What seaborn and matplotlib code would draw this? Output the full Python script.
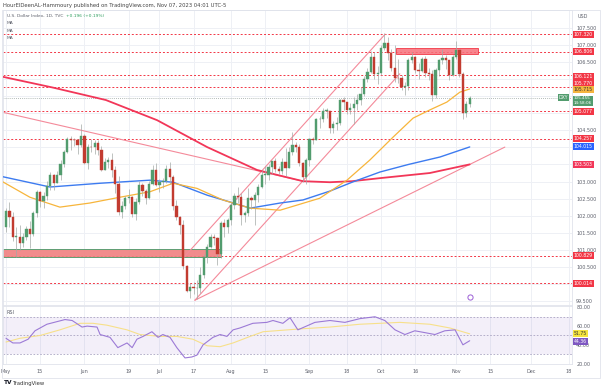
import numpy as np
import pandas as pd
import matplotlib
matplotlib.use("Agg")
import matplotlib.pyplot as plt
import matplotlib.transforms as mtransforms
from matplotlib.patches import Rectangle
import seaborn as sns

# ---------------- data ----------------
dates = pd.bdate_range("2023-05-01", "2023-11-07")

opens = [101.66,102.14,101.97,101.37,101.37,101.21,101.37,101.61,101.45,102.07,102.69,102.43,102.57,102.86,103.19,102.97,103.20,103.51,103.87,104.24,104.22,104.21,104.08,
         104.33,103.55,104.02,104.00,104.14,103.93,103.34,103.56,103.63,103.34,102.94,102.11,102.28,102.53,102.55,102.04,102.40,102.89,102.71,102.53,102.92,103.35,
         102.91,102.98,103.02,103.38,103.14,102.28,101.96,101.74,100.52,99.78,99.90,99.87,99.88,100.27,100.80,101.07,101.37,101.33,100.89,101.77,101.67,
         101.86,102.31,102.58,102.56,102.02,102.07,102.52,102.47,102.61,102.84,103.19,103.19,103.43,103.59,103.38,103.30,103.56,103.41,103.88,104.08,104.02,103.53,103.14,
         103.62,104.24,104.23,104.82,104.84,105.07,105.08,104.56,104.69,104.72,105.40,105.32,105.10,105.15,105.26,105.38,105.58,106.00,106.22,106.64,106.14,
         106.17,106.92,107.05,106.77,106.33,106.05,106.03,105.77,105.80,106.56,106.65,106.27,106.25,106.58,106.18,106.16,105.55,106.27,106.57,106.62,106.56,106.11,
         106.66,106.86,106.14,105.02,105.26]
highs = [102.21,102.40,102.11,101.66,101.74,101.48,101.71,101.83,102.14,102.75,102.72,102.70,103.02,103.28,103.23,103.32,103.62,103.92,104.31,104.35,104.28,104.25,104.70,
         104.39,104.09,104.24,104.22,104.23,104.05,103.68,103.73,103.84,103.45,103.16,102.44,102.58,102.77,102.58,102.52,103.01,102.95,102.77,103.03,103.49,103.55,
         103.07,103.09,103.48,103.57,103.19,102.47,101.99,101.86,100.56,100.02,100.04,100.10,100.49,100.88,101.17,101.46,101.47,101.38,101.85,101.90,101.94,
         102.40,102.67,102.84,102.65,102.14,102.80,102.58,102.70,102.92,103.35,103.45,103.50,103.59,103.68,103.47,103.69,103.99,104.00,104.44,104.16,104.10,103.56,103.70,
         104.28,104.32,104.86,104.91,105.15,105.15,105.08,104.77,104.88,105.43,105.47,105.34,105.30,105.47,105.56,105.76,106.10,106.34,106.84,106.80,106.39,
         107.00,107.35,107.23,106.90,107.00,106.60,106.11,105.91,106.63,106.79,106.68,106.48,106.66,106.67,106.34,106.26,106.33,106.60,106.89,106.71,106.57,106.72,
         107.11,106.90,106.22,105.36,105.50]
lows = [101.52,101.66,101.25,100.78,100.98,101.07,101.30,101.06,101.40,101.96,102.24,102.22,102.47,102.76,102.74,102.97,103.05,103.44,103.83,103.92,104.05,103.81,104.02,
        103.51,103.38,103.86,103.82,103.78,103.30,103.33,103.41,103.13,102.65,102.03,101.92,102.20,102.37,101.97,101.87,102.35,102.57,102.33,102.48,102.89,102.86,
        102.70,102.80,102.97,102.93,102.16,101.88,101.45,100.44,99.77,99.58,99.70,99.57,99.73,100.18,100.62,101.05,101.15,100.55,100.76,101.36,101.48,
        101.74,102.20,102.37,101.74,101.80,101.98,102.20,101.74,102.40,102.81,102.93,103.05,103.23,103.29,103.21,103.22,103.15,103.39,103.77,103.88,103.47,103.00,102.94,
        103.45,104.10,104.22,104.57,104.76,104.86,104.42,104.43,104.51,104.66,105.10,104.98,104.99,104.68,105.09,105.25,105.52,105.92,106.17,106.00,105.85,
        106.11,106.86,106.55,106.25,105.93,105.90,105.67,105.53,105.69,106.47,106.19,106.01,106.20,106.07,105.98,105.37,105.45,106.10,106.45,106.29,105.97,106.09,
        106.60,106.06,104.84,104.88,105.20]
closes = [102.14,101.97,101.37,101.37,101.21,101.37,101.61,101.45,102.07,102.69,102.43,102.57,102.86,103.19,102.97,103.20,103.51,103.87,104.24,104.22,104.21,104.08,104.33,
          103.55,104.02,104.00,104.14,103.93,103.34,103.56,103.63,103.34,102.94,102.11,102.28,102.53,102.55,102.04,102.40,102.89,102.71,102.53,102.92,103.35,102.91,
          102.98,103.02,103.38,103.14,102.28,101.96,101.74,100.52,99.78,99.90,99.87,99.88,100.27,100.80,101.07,101.37,101.33,100.89,101.77,101.67,101.86,
          102.31,102.58,102.56,102.02,102.07,102.52,102.47,102.61,102.84,103.19,103.19,103.43,103.59,103.38,103.30,103.56,103.41,103.88,104.08,104.02,103.53,103.14,103.62,
          104.24,104.23,104.82,104.84,105.07,105.08,104.56,104.69,104.72,105.40,105.32,105.10,105.15,105.26,105.38,105.58,106.00,106.22,106.64,106.14,106.17,
          106.92,107.05,106.77,106.33,106.05,106.03,105.77,105.80,106.56,106.65,106.27,106.25,106.58,106.18,106.16,105.55,106.27,106.57,106.62,106.56,106.11,106.66,
          106.86,106.14,105.02,105.26,105.455]

# moving averages (bar index, value)
ma50_idx = [-1.8, 7, 15.8, 24.6, 33.4, 42.2, 49, 56, 63.6, 71.6, 80.4, 92, 100, 106.7, 113.5, 119.4, 124.3, 129.3, 133.1, 136]
ma50_val = [103.04, 102.54, 102.25, 102.37, 102.54, 102.70, 102.95, 102.80, 102.46, 102.22, 102.16, 102.51, 103.04, 103.63, 104.30, 104.86, 105.10, 105.33, 105.62, 105.715]
ma100_idx = [-1.8, 12.9, 27.6, 42.2, 49, 59, 65.7, 71.6, 80.4, 87.1, 95, 101.5, 109.7, 118, 127.3, 136]
ma100_val = [103.16, 102.84, 102.95, 103.04, 102.98, 102.60, 102.40, 102.22, 102.37, 102.46, 102.72, 102.98, 103.28, 103.50, 103.72, 104.015]
ma200_idx = [-1.8, 14, 29.3, 44.3, 59, 73.6, 87.1, 95, 101.5, 109.7, 124.3, 136]
ma200_val = [106.09, 105.75, 105.39, 104.80, 104.01, 103.34, 103.01, 102.98, 103.01, 103.10, 103.25, 103.503]

rsi_idx = [0, 2, 4.1, 6.5, 8.5, 12, 17.3, 19.4, 22.3, 23.8, 26.7, 27.6, 30.5, 32.8, 35.5, 37, 38.4, 40.2, 42.8, 44.6, 46, 48.1,
           50.1, 52.5, 54.5, 56, 57.8, 60.7, 62.8, 64.8, 66.6, 68.6, 72.4, 76.5, 78.3, 81.2, 83.3, 85.6, 90.6, 95, 99.4, 103.8,
           108.2, 111.1, 114.1, 117, 119.9, 122.9, 125.8, 128.7, 131.7, 134, 136]
rsi_val = [47, 42, 42, 46, 55, 62, 67, 66, 59, 60, 59, 51, 48, 37, 42, 37, 46, 49, 54, 48, 51, 48,
           37, 26, 27, 29, 40, 48, 51, 49, 56, 58, 63, 64, 66, 63, 69, 56, 64, 66, 64, 68,
           70, 66, 56, 51, 55, 53, 51, 55, 56, 40, 44.36]
rsima_idx = [0, 4.1, 10, 15.8, 21.7, 25.5, 29.6, 35.5, 39.3, 45.2, 50.1, 54.8, 59, 62.8, 66.6, 71.6, 75.4, 86.2, 95, 103.8, 115.5, 124.3, 130.2, 136]
rsima_val = [43, 47, 50, 56, 63, 63, 61, 56, 51, 49, 49, 46, 39, 38, 42, 49, 54, 57, 59, 62, 64, 62, 58, 51.75]

levels = [107.320, 106.806, 106.121, 105.770, 105.077, 104.257, 100.829, 100.014]
level_badge_pos = [107.320, 106.806, 106.09, 105.885, 105.05, 104.257, 100.829, 100.014]
tick_pos = [0, 10, 23, 36, 45, 55, 66, 76, 89, 100, 110, 120, 132, 142, 154, 165]
tick_lab = ["May", "15", "Jun", "19", "Jul", "17", "Aug", "15", "Sep", "18", "Oct", "16", "Nov", "15", "Dec", "18"]
price_ticks = [99.5, 100.0, 100.5, 101.0, 101.5, 102.0, 102.5, 103.0, 103.5, 104.0, 104.5, 105.0, 105.5, 106.0, 106.5, 107.0, 107.5]
hidden_ticks = [100.0, 103.5, 104.0, 105.0, 105.5, 106.0]

# ---------------- style ----------------
sns.set_theme(style="white")
plt.rcParams['font.family'] = ['DejaVu Sans']
UP, DN = "#529c6e", "#c23b30"
GRID = "#eef0f5"
TXT = "#5d606b"
FS = 3.5

fig = plt.figure(figsize=(6.02, 3.90), dpi=100)
W, H = 602.0, 390.0
def fx(px): return px / W
def fy(py): return 1 - py / H

x0, x1 = 3, 572
ax = fig.add_axes([fx(x0), fy(305), (x1 - x0) / W, 295 / H])
axr = fig.add_axes([fx(x0), fy(364), (x1 - x0) / W, 58 / H], sharex=ax)

fig.patches.append(Rectangle((fx(2), fy(378)), fx(598), 368 / H, transform=fig.transFigure,
                             fill=False, ec="#e0e3eb", lw=0.6))

n = len(closes)
df = pd.DataFrame({"i": np.arange(n), "date": dates, "open": opens, "high": highs, "low": lows, "close": closes})

ax.set_xlim(-0.88, 166.0)
ax.set_ylim(99.38, 108.03)

# grid / axes
ax.set_yticks(price_ticks)
ax.set_xticks(tick_pos)
ax.grid(True, color=GRID, lw=0.7)
ax.tick_params(axis="x", labelbottom=False, length=0)
ax.yaxis.tick_right()
ax.tick_params(axis="y", labelsize=FS, colors=TXT, length=0, pad=3)
ax.set_yticklabels(["" if v in hidden_ticks else f"{v:.3f}" for v in price_ticks])
for s in ax.spines.values():
    s.set_color("#e0e3eb"); s.set_linewidth(0.6)

# horizontal levels
for lv in levels:
    ax.axhline(lv, color="#f23645", lw=0.7, ls=(0, (2, 2)), zorder=1)
ax.axhline(105.455, color="#9aa5a0", lw=0.6, ls=(0, (1, 1.5)), zorder=1)

# zones
ax.add_patch(Rectangle((-0.88, 100.78), 64.0, 0.24, fc="#f08080", ec="#4d9a6a", lw=0.7, alpha=0.9, zorder=2))
ax.add_patch(Rectangle((114.5, 106.73), 24.0, 0.19, fc="#f7707a", ec="#f23645", lw=0.7, alpha=0.85, zorder=2))

# trend lines (bar index, price)
tl = "#f48a9a"
for (a, b) in [((-0.88, 105.03), (87.1, 103.01)),
               ((51.9, 100.75), (111.2, 107.32)),
               ((55.4, 99.52), (115.5, 106.16)),
               ((55.4, 99.52), (146.3, 104.01))]:
    ax.plot([a[0], b[0]], [a[1], b[1]], color=tl, lw=0.8, zorder=2)

# MAs
sns.lineplot(x=ma200_idx, y=ma200_val, ax=ax, color="#f23658", lw=1.3, zorder=3)
sns.lineplot(x=ma100_idx, y=ma100_val, ax=ax, color="#3d7bf0", lw=1.0, zorder=3)
sns.lineplot(x=ma50_idx, y=ma50_val, ax=ax, color="#f7b53b", lw=0.9, zorder=3)

# candles
up = df["close"] >= df["open"]
colors = np.where(up, UP, DN)
ax.vlines(df["i"], df["low"], df["high"], color="#a4aaa6", lw=0.5, zorder=4)
body_lo = np.minimum(df["open"], df["close"])
body_h = np.maximum(np.abs(df["close"] - df["open"]), 0.02)
ax.bar(df["i"], body_h, bottom=body_lo, width=0.66, color=colors, edgecolor=colors, lw=0.3, zorder=5)

# event icon
ax.scatter([136], [99.62], s=14, fc="white", ec="#9c5fd6", lw=0.7, zorder=6)

# legend text
fig.text(fx(7), fy(16), "U.S. Dollar Index, 1D, TVC", fontsize=3.2, color=TXT, va="center")
fig.text(fx(66), fy(16), "+0.196 (+0.19%)", fontsize=3.2, color="#2e9e5e", va="center")
for yy in (23.5, 31, 38):
    fig.text(fx(7), fy(yy), "MA", fontsize=3.2, color=TXT, va="center")

# right axis badges
trans = mtransforms.blended_transform_factory(ax.transAxes, ax.transData)
def badge(a, tr, y, text, fc, tc="white", x=1.003, fs=3.3):
    a.text(x, y, text, transform=tr, fontsize=fs, color=tc, va="center", ha="left",
           bbox=dict(boxstyle="square,pad=0.22", fc=fc, ec="none"), clip_on=False, zorder=10)

for lv, pos in zip(levels, level_badge_pos):
    badge(ax, trans, pos, f"{lv:.3f}", "#f23645")
badge(ax, trans, 105.70, "105.715", "#f5b53f", tc="#333333")
badge(ax, trans, 104.015, "104.015", "#2962ff")
badge(ax, trans, 103.503, "103.503", "#f23658")
badge(ax, trans, 105.37, "105.455\n14:58:06", "#529c6e", fs=3.0)
ax.text(0.993, 105.455, "DXY", transform=trans, fontsize=3.3, color="white", va="center", ha="right",
        bbox=dict(boxstyle="square,pad=0.22", fc="#529c6e", ec="none"), zorder=10)
fig.text(fx(583), fy(17), "USD", fontsize=FS, color=TXT, ha="center", va="center")

# RSI panel
axr.set_ylim(19.5, 81.5)
axr.axhspan(30, 70, color="#7e57c2", alpha=0.09, lw=0)
for lv in (70, 50, 30):
    axr.axhline(lv, color="#a9a3c2", lw=0.6, ls=(0, (2, 2)))
sns.lineplot(x=rsima_idx, y=rsima_val, ax=axr, color="#f7e08a", lw=0.8)
sns.lineplot(x=rsi_idx, y=rsi_val, ax=axr, color="#9c7ad6", lw=0.8)
axr.set_yticks([20, 40, 60, 80])
axr.yaxis.tick_right()
axr.set_yticklabels(["20.00", "40.00", "60.00", "80.00"])
axr.tick_params(axis="y", labelsize=FS, colors=TXT, length=0, pad=3)
axr.set_xticks(tick_pos)
axr.set_xticklabels(tick_lab)
axr.tick_params(axis="x", labelsize=FS, colors=TXT, length=0, pad=3.5)
axr.grid(True, axis="x", color=GRID, lw=0.7)
for s in axr.spines.values():
    s.set_color("#e0e3eb"); s.set_linewidth(0.6)
axr.text(0.006, 0.93, "RSI", transform=axr.transAxes, fontsize=FS, color=TXT, va="top")
transr = mtransforms.blended_transform_factory(axr.transAxes, axr.transData)
badge(axr, transr, 52.3, "51.75", "#f5e33f", tc="#333333")
badge(axr, transr, 44.0, "44.36", "#7e57c2")
axr.set_xlabel(""); axr.set_ylabel(""); ax.set_xlabel(""); ax.set_ylabel("")

# header / footer
fig.text(fx(3), fy(5), "HourElDeenAL-Hammoury published on TradingView.com, Nov 07, 2023 04:01 UTC-5",
         fontsize=3.8, color="#444444", va="center")
fig.text(fx(4), fy(383), "TV", fontsize=4.2, color="#131722", va="center", fontweight="bold")
fig.text(fx(13), fy(383), "TradingView", fontsize=3.8, color="#333333", va="center")

fig.savefig("out.png", dpi=100)
